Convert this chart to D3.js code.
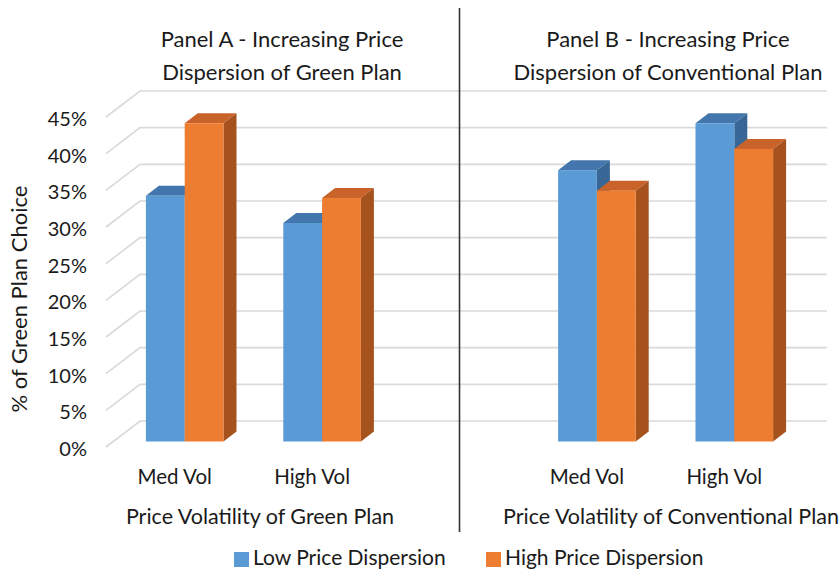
<!DOCTYPE html>
<html>
<head>
<meta charset="utf-8">
<script src="https://cdn.jsdelivr.net/npm/d3@7"></script>
<style>
  body { margin: 0; background: #fff; }
  svg text { font-family: Lato, "Open Sans", sans-serif; fill: #1a1a1a; }
</style>
</head>
<body>
<svg id="chart"></svg>
<script>
// ---- data ----
const categories = ["Med Vol", "High Vol"];
const seriesNames = ["Low Price Dispersion", "High Price Dispersion"];
const panelATitle = ["Panel A - Increasing Price", "Dispersion of Green Plan"];
const panelBTitle = ["Panel B - Increasing Price", "Dispersion of Conventional Plan"];
const panelAAxisTitle = "Price Volatility of Green Plan";
const panelBAxisTitle = "Price Volatility of Conventional Plan";
const panelALow = [0.335, 0.298];
const panelAHigh = [0.434, 0.332];
const panelBLow = [0.370, 0.434];
const panelBHigh = [0.342, 0.399];
const yTicks = [0, 0.05, 0.10, 0.15, 0.20, 0.25, 0.30, 0.35, 0.40, 0.45];
const yTitle = "% of Green Plan Choice";

class PanelBars3D {

  constructor(_config) {
    this.config = {
      parentElement: _config.parentElement,
      containerWidth: _config.containerWidth || 840,
      containerHeight: _config.containerHeight || 577,
      depth: { dx: 34, dy: 26 }       // oblique offset of the back wall
    }
    this.initVis();
  }

  initVis() {
    let vis = this;
    const depth = vis.config.depth;

    vis.svg = d3.select(vis.config.parentElement)
        .attr('width', vis.config.containerWidth)
        .attr('height', vis.config.containerHeight);

    // five slots along x: two per panel and an empty one where the divider sits
    vis.slots = ["A|" + categories[0], "A|" + categories[1], "gap", "B|" + categories[0], "B|" + categories[1]];
    vis.xScale = d3.scaleBand().domain(vis.slots).range([106, 793]);   // front plane
    vis.yScale = d3.scaleLinear().domain([0, 0.45]).range([447, 117]); // front plane

    vis.inner = d3.scaleBand().domain(seriesNames).range([0, 77.6]);
    vis.color = d3.scaleOrdinal().domain(seriesNames).range(['#5b9bd5', '#ed7d31']);
    vis.topColor = d3.scaleOrdinal().domain(seriesNames).range(['#4276ad', '#c9632a']);
    vis.sideColor = d3.scaleOrdinal().domain(seriesNames).range(['#386796', '#a5521d']);

    const x0 = vis.xScale.range()[0], x1 = vis.xScale.range()[1];

    // side wall diagonals + back wall gridlines
    vis.grid = vis.svg.append('g').attr('class', 'grid');
    vis.grid.selectAll('path')
      .data(yTicks)
      .join('path')
        .attr('fill', 'none')
        .attr('stroke', '#d9d9d9')
        .attr('stroke-width', 1.6)
        .attr('d', d => `M${x0},${vis.yScale(d)} L${x0 + depth.dx},${vis.yScale(d) - depth.dy} L${x1 + depth.dx},${vis.yScale(d) - depth.dy}`);

    // y tick labels
    vis.svg.append('g')
      .selectAll('text')
      .data(yTicks)
      .join('text')
        .attr('x', 87)
        .attr('y', d => vis.yScale(d) + 4)
        .attr('text-anchor', 'end')
        .attr('dominant-baseline', 'middle')
        .style('font-size', '20px')
        .text(d => d3.format('.0%')(d));

    // y axis title
    vis.svg.append('text')
      .attr('transform', 'translate(21,299) rotate(-90)')
      .attr('text-anchor', 'middle')
      .attr('dominant-baseline', 'middle')
      .style('font-size', '22px')
      .text(yTitle);

    // bars
    const rows = [];
    categories.forEach((c, i) => {
      rows.push({ slot: "A|" + c, series: seriesNames[0], value: panelALow[i] });
      rows.push({ slot: "A|" + c, series: seriesNames[1], value: panelAHigh[i] });
      rows.push({ slot: "B|" + c, series: seriesNames[0], value: panelBLow[i] });
      rows.push({ slot: "B|" + c, series: seriesNames[1], value: panelBHigh[i] });
    });
    rows.sort((a, b) => seriesNames.indexOf(a.series) - seriesNames.indexOf(b.series));

    const barOff = { dx: 10, dy: 5.5 };   // bar front face sits a little into the floor
    const barDepth = { dx: 13, dy: 10 };
    const w = vis.inner.bandwidth();
    const slotMid = s => vis.xScale(s) + vis.xScale.bandwidth() / 2;

    const bars = vis.svg.append('g').attr('class', 'bars')
      .selectAll('g')
      .data(rows)
      .join('g');

    bars.each(function(d) {
      const g = d3.select(this);
      const left = slotMid(d.slot) - vis.inner.range()[1] / 2 + vis.inner(d.series) + barOff.dx;
      const right = left + w;
      const base = vis.yScale(0) - barOff.dy;
      const top = base - (vis.yScale(0) - vis.yScale(d.value));
      g.append('path')
        .attr('fill', vis.topColor(d.series))
        .attr('d', `M${left},${top} L${left + barDepth.dx},${top - barDepth.dy} L${right + barDepth.dx},${top - barDepth.dy} L${right},${top} Z`);
      g.append('path')
        .attr('fill', vis.sideColor(d.series))
        .attr('d', `M${right},${top} L${right + barDepth.dx},${top - barDepth.dy} L${right + barDepth.dx},${base - barDepth.dy} L${right},${base} Z`);
      g.append('rect')
        .attr('x', left)
        .attr('y', top)
        .attr('width', w)
        .attr('height', base - top)
        .attr('fill', vis.color(d.series));
    });

    // category labels on the front edge
    vis.svg.append('g')
      .selectAll('text')
      .data(vis.slots.filter(s => s !== "gap"))
      .join('text')
        .attr('x', d => slotMid(d))
        .attr('y', 479)
        .attr('text-anchor', 'middle')
        .attr('dominant-baseline', 'middle')
        .style('font-size', '20.5px')
        .text(d => d.split('|')[1]);

    // divider between the panels
    const divX = slotMid("gap") + 10;
    vis.svg.append('line')
      .attr('x1', divX).attr('x2', divX)
      .attr('y1', 8).attr('y2', 532)
      .attr('stroke', '#333')
      .attr('stroke-width', 1.6);

    // panel titles
    [[panelATitle, 282], [panelBTitle, 668]].forEach(([lines, cx]) => {
      vis.svg.append('g')
        .selectAll('text')
        .data(lines)
        .join('text')
          .attr('x', cx)
          .attr('y', (d, i) => 41 + i * 33)
          .attr('text-anchor', 'middle')
          .attr('dominant-baseline', 'middle')
          .style('font-size', '22px')
          .text(d => d);
    });

    // axis titles under each panel
    [[panelAAxisTitle, 260], [panelBAxisTitle, 671]].forEach(([t, cx]) => {
      vis.svg.append('text')
        .attr('x', cx)
        .attr('y', 519)
        .attr('text-anchor', 'middle')
        .attr('dominant-baseline', 'middle')
        .style('font-size', '21.5px')
        .text(t);
    });

    // legend
    const legend = vis.svg.append('g').attr('class', 'legend');
    const legendX = [234, 486];
    seriesNames.forEach((s, i) => {
      legend.append('rect')
        .attr('x', legendX[i]).attr('y', 552)
        .attr('width', 15).attr('height', 15)
        .attr('fill', vis.color(s));
      legend.append('text')
        .attr('x', legendX[i] + 19)
        .attr('y', 560)
        .attr('dominant-baseline', 'middle')
        .style('font-size', '21px')
        .text(s);
    });
  }
}

let chart = new PanelBars3D({ parentElement: '#chart' });
</script>
</body>
</html>
